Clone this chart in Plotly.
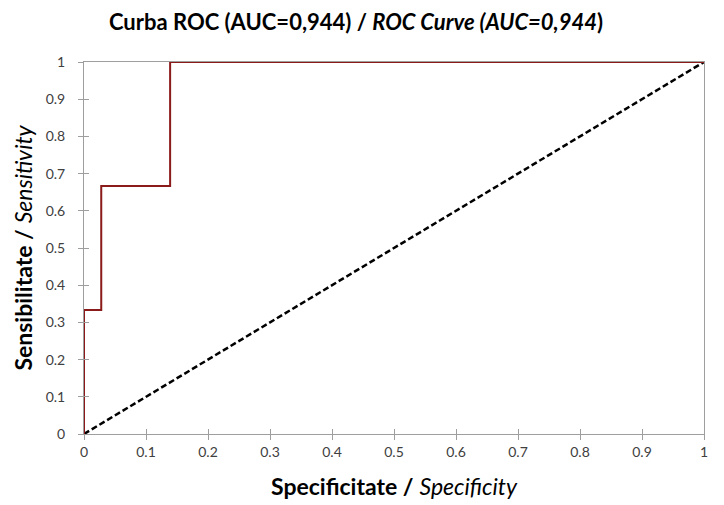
import plotly.graph_objects as go

# ROC step curve (1 - specificity on x, sensitivity on y)
roc_x = [0, 0, 0.0278, 0.0278, 0.1389, 0.1389, 1]
roc_y = [0, 0.3333, 0.3333, 0.6667, 0.6667, 1, 1]
diag_x = [0, 1]
diag_y = [0, 1]
tick_vals = [0, 0.1, 0.2, 0.3, 0.4, 0.5, 0.6, 0.7, 0.8, 0.9, 1]
tick_text = ["0", "0.1", "0.2", "0.3", "0.4", "0.5", "0.6", "0.7", "0.8", "0.9", "1"]

FONT = "Lato"
AXIS_COLOR = "#9e9e9e"
TXT = "#404040"

fig = go.Figure()
fig.add_trace(go.Scatter(x=diag_x, y=diag_y, mode="lines",
                         line=dict(color="black", width=2.5, dash="6px,3px"),
                         showlegend=False, hoverinfo="skip"))
fig.add_trace(go.Scatter(x=roc_x, y=roc_y, mode="lines",
                         line=dict(color="#8b1a1a", width=2),
                         showlegend=False))

common = dict(range=[0, 1], tickvals=tick_vals, ticktext=tick_text,
              showgrid=False, zeroline=False, showline=True, linecolor=AXIS_COLOR,
              linewidth=1, mirror=True, ticks="outside", ticklen=5,
              tickcolor=AXIS_COLOR, tickwidth=1,
              tickfont=dict(family=FONT, size=14, color=TXT))

fig.update_layout(
    width=724, height=505,
    margin=dict(l=76, r=28, t=54, b=79),
    paper_bgcolor="white", plot_bgcolor="white",
    title=dict(text="<b>Curba ROC (AUC=0,944) / <i>ROC Curve (AUC=0,944</i>)</b>",
               x=348 / 724, xanchor="center", y=1 - 14 / 505, yanchor="middle",
               font=dict(family=FONT, size=22, color="black")),
    xaxis=dict(**common,
               title=dict(text="<b>Specificitate /</b> <i>Specificity</i>",
                          font=dict(family=FONT, size=23, color="black"), standoff=20)),
    yaxis=dict(**common, ticklabelstandoff=10,
               title=dict(text="<b>Sensibilitate /</b> <i>Sensitivity</i>",
                          font=dict(family=FONT, size=23, color="black"), standoff=6)),
    xaxis2=dict(range=[0, 1], tickvals=tick_vals, overlaying="x", anchor="y", side="bottom",
                showticklabels=False, showgrid=False, zeroline=False, showline=False,
                ticks="inside", ticklen=5, tickcolor=AXIS_COLOR, tickwidth=1),
    yaxis2=dict(range=[0, 1], tickvals=tick_vals, overlaying="y", anchor="x", side="left",
                showticklabels=False, showgrid=False, zeroline=False, showline=False,
                ticks="inside", ticklen=5, tickcolor=AXIS_COLOR, tickwidth=1),
)
# dummy trace to activate the overlay axes
fig.add_trace(go.Scatter(x=[None], y=[None], xaxis="x2", yaxis="y2",
                         showlegend=False, hoverinfo="skip"))

fig.write_html("out.html")
